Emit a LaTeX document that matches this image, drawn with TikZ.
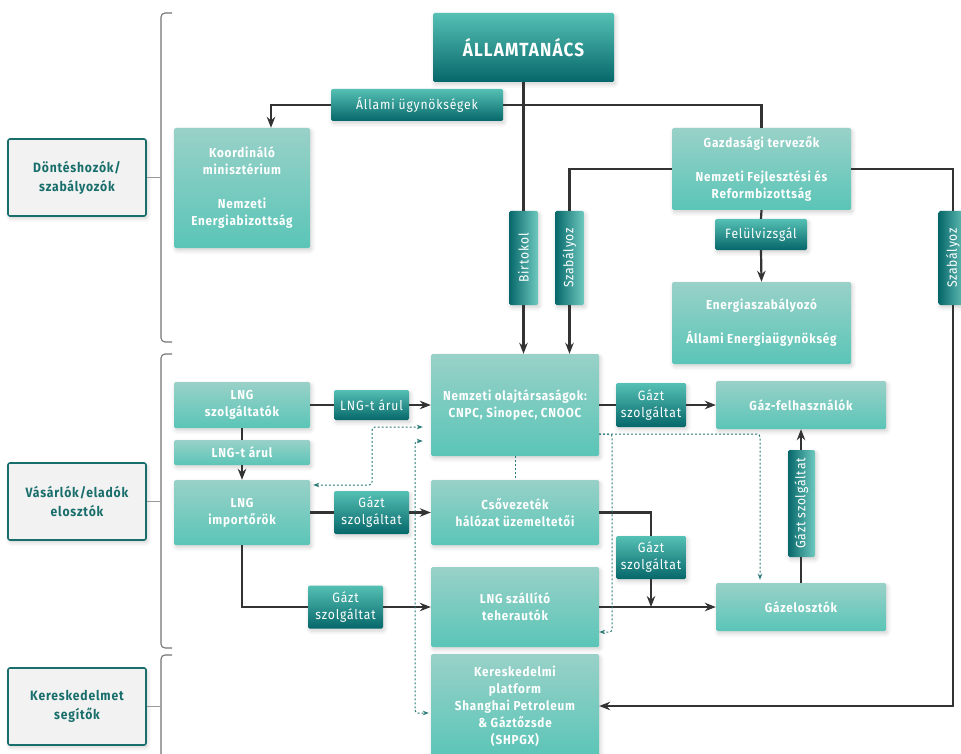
\documentclass[tikz,border=0pt]{standalone}
\usepackage{fontspec}
\setmainfont[FakeStretch=0.9,LetterSpace=6]{Fira Sans}
\usetikzlibrary{arrows.meta,calc,shadows.blur}
\definecolor{dkA}{HTML}{55C0B4}
\definecolor{dkB}{HTML}{06676A}
\definecolor{ltA}{HTML}{99D1C8}
\definecolor{ltB}{HTML}{5AC5B7}
\definecolor{tealtxt}{HTML}{186E6B}
\definecolor{lnc}{HTML}{333333}
\definecolor{dshc}{HTML}{2A7A77}
\tikzset{
  dtip/.tip={Stealth[length=6pt,width=4.5pt]},
  shad/.style={blur shadow={shadow blur steps=6,shadow xshift=1.5pt,shadow yshift=-2.5pt,shadow opacity=18,shadow blur radius=4pt}},
  dfont/.style={font=\fontsize{13.5}{17}\selectfont},
  darkbox/.style={shad,rounded corners=1.5pt,top color=dkA,bottom color=dkB,text=white,align=center,inner sep=0pt,dfont},
  vdarkbox/.style={shad,rounded corners=1.5pt,left color=dkB,right color=dkA!85,text=white,inner sep=0pt},
  vtext/.style={rotate=90,text=white,dfont},
  lightbox/.style={shad,rounded corners=1.5pt,top color=ltA,bottom color=ltB,text=white,align=center,inner sep=0pt,font=\bfseries\fontsize{13}{17}\selectfont},
  leftbox/.style={shad,rounded corners=2pt,fill=black!5,draw=tealtxt,line width=1.6pt,text=tealtxt,align=center,inner sep=0pt,font=\bfseries\fontsize{13.5}{19}\selectfont,minimum width=138pt,minimum height=77pt},
  ln/.style={draw=lnc,line width=2.2pt},
  arr/.style={ln,-{Stealth[length=11pt,width=8.5pt]}},
  dsh/.style={draw=dshc,line width=1pt,dash pattern=on 2pt off 2pt,rounded corners=3pt},
  brk/.style={draw=black!55,line width=1.1pt,rounded corners=4pt},
  brl/.style={draw=black!40,line width=1pt},
}
\begin{document}
\begin{tikzpicture}[x=1pt,y=-1pt]
\useasboundingbox (0,0) rectangle (961,754);
\begin{scope}
\clip (0,0) rectangle (961,754);
% brackets
\draw[brk] (172,13) -- (161,13) -- (161,342) -- (172,342);
\draw[brk] (172,354) -- (161,354) -- (161,648) -- (172,648);
\draw[brk] (172,655) -- (161,655) -- (161,770);
\coordinate (br1) at (161,177.5);
\coordinate (br2) at (161,501.5);
\coordinate (br3) at (161,706.5);
% left boxes
\node[leftbox] (dec) at (77,177.5) {Döntéshozók/\\szabályozók};
\node[leftbox] (buy) at (77,501.5) {Vásárlók/eladók\\elosztók};
\node[leftbox] (trd) at (77,706.5) {Kereskedelmet\\segítők};
\draw[brl] (dec.east) -- (br1);
\draw[brl] (buy.east) -- (br2);
\draw[brl] (trd.east) -- (br3);

% light boxes
\node[lightbox,minimum width=136pt,minimum height=120pt] (koord) at (242,188) {Koordináló\\minisztérium\\[17pt]Nemzeti\\Energiabizottság};
\node[lightbox,minimum width=179pt,minimum height=82pt] (gazd) at (761.5,169) {Gazdasági tervezők\\[17pt]Nemzeti Fejlesztési és\\Reformbizottság};
\node[lightbox,minimum width=179pt,minimum height=82pt] (energ) at (761.5,323) {Energiaszabályozó\\[17pt]Állami Energiaügynökség};
\node[lightbox,minimum width=136pt,minimum height=46pt] (lszolg) at (242,405) {LNG\\szolgáltatók};
\node[lightbox,minimum width=136pt,minimum height=25pt] (larul2) at (242,452.5) {LNG-t árul};
\node[lightbox,minimum width=136pt,minimum height=65pt] (import) at (242,512.5) {LNG\\importőrök};
\node[lightbox,minimum width=168pt,minimum height=102pt] (nemz) at (515,405) {Nemzeti olajtársaságok:\\CNPC, Sinopec, CNOOC};
\node[lightbox,minimum width=170pt,minimum height=48pt] (gazfelh) at (801,405) {Gáz-felhasználók};
\node[lightbox,minimum width=168pt,minimum height=65pt] (csov) at (515,512.5) {Csővezeték\\hálózat üzemeltetői};
\node[lightbox,minimum width=168pt,minimum height=80pt] (lszall) at (515,607) {LNG szállító\\teherautók};
\node[lightbox,minimum width=168pt,minimum height=104pt] (keres) at (515,706) {Kereskedelmi\\platform\\Shanghai Petroleum\\\& Gáztőzsde\\(SHPGX)};
\node[lightbox,minimum width=170pt,minimum height=48pt] (gazel) at (801,607) {Gázelosztók};

% dark boxes
\node[darkbox,minimum width=181pt,minimum height=69pt,font=\bfseries\fontsize{19}{22}\selectfont] (allam) at (523.5,47.5) {ÁLLAMTANÁCS};
\node[darkbox,minimum width=172pt,minimum height=32pt] (agency) at (417,105) {Állami ügynökségek};
\node[vdarkbox,minimum width=29pt,minimum height=94pt] (birt) at (523.5,258) {};
\node[vtext] at (birt) {Birtokol};
\node[vdarkbox,minimum width=29pt,minimum height=94pt] (szab1) at (569.5,258) {};
\node[vtext] at (szab1) {Szabályoz};
\node[vdarkbox,minimum width=29pt,minimum height=94pt] (szab2) at (953,258) {};
\node[vtext] at (szab2) {Szabályoz};
\node[darkbox,minimum width=92pt,minimum height=31pt] (felul) at (761,234.5) {Felülvizsgál};
\node[darkbox,minimum width=75pt,minimum height=30pt] (larul) at (371.5,405) {LNG-t árul};
\node[darkbox,minimum width=75pt,minimum height=43pt] (gazt1) at (371.5,512.5) {Gázt\\szolgáltat};
\node[darkbox,minimum width=70pt,minimum height=44pt] (gazt2) at (651,405) {Gázt\\szolgáltat};
\node[darkbox,minimum width=70pt,minimum height=43pt] (gazt3) at (651,557.5) {Gázt\\szolgáltat};
\node[darkbox,minimum width=75pt,minimum height=43pt] (gazt4) at (345.5,607) {Gázt\\szolgáltat};
\node[vdarkbox,minimum width=27pt,minimum height=107pt] (gazt5) at (801.5,503.5) {};
\node[vtext] at (gazt5) {Gázt szolgáltat};

% solid connectors
\draw[arr] (agency.west) -| ([xshift=29pt]koord.north);
\draw[ln] (agency.east) -| (gazd.north);
\draw[ln] (allam.south) -- (birt.north);
\draw[arr] (birt.south) -- (birt.south |- nemz.north);
\draw[ln] (gazd.west) -| (szab1.north);
\draw[arr] (szab1.south) -- (szab1.south |- nemz.north);
\draw[ln] (gazd.east) -| (szab2.north);
\draw[arr] (szab2.south) |- (keres.east);
\draw[ln] (gazd.south) -- (felul.north);
\draw[arr] (felul.south) -- (energ.north);
\draw[ln] (lszolg.east) -- (larul.west);
\draw[arr] (larul.east) -- (nemz.west);
\draw[ln] (lszolg.south) -- (larul2.north);
\draw[arr] (larul2.south) -- (import.north);
\draw[ln] (import.east) -- (gazt1.west);
\draw[arr] (gazt1.east) -- (csov.west);
\draw[ln] (nemz.east) -- (gazt2.west);
\draw[arr] (gazt2.east) -- (gazfelh.west);
\draw[ln] (gazel.north) -- (gazel.north |- gazt5.south);
\draw[arr] (gazel.north |- gazt5.north) -- (gazel.north |- gazfelh.south);
\draw[ln] (csov.east) -| (gazt3.north);
\coordinate (join) at (gazt3.south |- gazel.west);
\draw[arr] (gazt3.south) -- (join);
\draw[ln] (import.south) |- (gazt4.west);
\draw[arr] (gazt4.east) -- (lszall.west);
\draw[arr] (lszall.east) -- (gazel.west);

% dashed connectors
\draw[dsh,dtip-dtip,shorten <=3pt,shorten >=8pt] ([yshift=27.5pt]import.east) -| (372,427) -- ([yshift=-22pt]nemz.west);
\draw[dsh,dtip-dtip,shorten <=8pt,shorten >=2pt] ([yshift=-36pt]nemz.west) -| (415,713) -- ([yshift=-7pt]keres.west);
\draw[dsh] (nemz.south) -- (csov.north);
\draw[dsh,-dtip,shorten >=3pt] ([yshift=-29pt]nemz.east) -| ([xshift=-41pt]gazel.north);
\draw[dsh,-dtip] ([yshift=-29pt]nemz.east) -- ++(13,0) |- ([yshift=-25pt]lszall.east);
\end{scope}
\end{tikzpicture}
\end{document}
